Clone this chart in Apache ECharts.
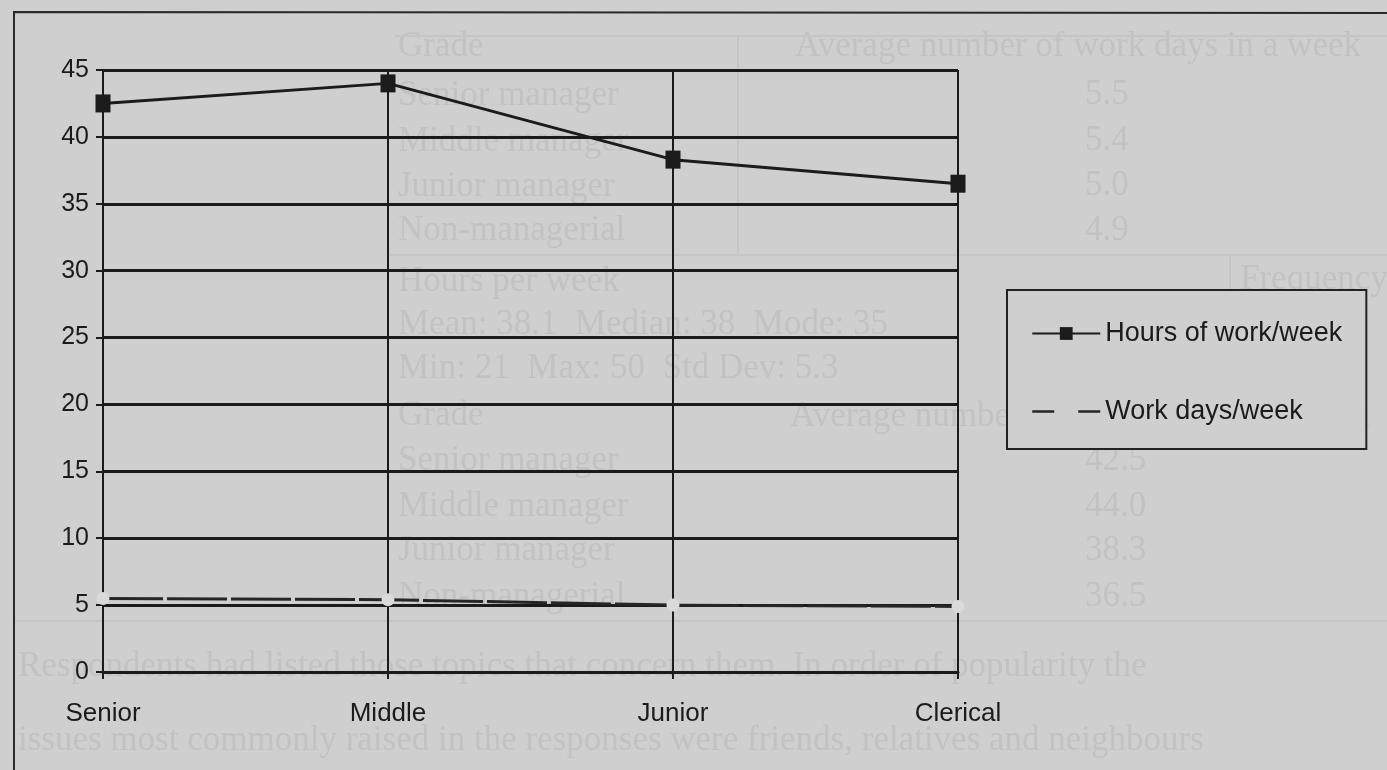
<!DOCTYPE html>
<html>
<head>
<meta charset="utf-8">
<title>Hours of work and work days per week by grade</title>
<script src="https://cdn.jsdelivr.net/npm/echarts@6/dist/echarts.min.js"></script>
<style>
  html, body { margin: 0; padding: 0; background: #cfcfcf; }
  #chart { width: 1387px; height: 770px; }
</style>
</head>
<body>
<div id="chart"></div>
<script>
// Grades along the horizontal axis
const grades = ['Senior', 'Middle', 'Junior', 'Clerical'];
// Average hours worked per week for each grade
const hoursPerWeek = [42.5, 44.0, 38.3, 36.5];
// Average number of work days per week for each grade
const daysPerWeek = [5.5, 5.4, 5.0, 4.9];
// Value axis ticks
const yMin = 0;
const yMax = 45;
const yStep = 5;

// Table printed on the page beneath the chart (shows faintly through)
const pageTextLeft = [
  ['Grade', 48], ['Senior manager', 97], ['Middle manager', 143],
  ['Junior manager', 188], ['Non-managerial', 232], ['Hours per week', 283],
  ['Mean: 38.1  Median: 38  Mode: 35', 326], ['Min: 21  Max: 50  Std Dev: 5.3', 370],
  ['Grade', 417], ['Senior manager', 462], ['Middle manager', 508],
  ['Junior manager', 552], ['Non-managerial', 598]
];
const pageTextValues = [
  ['5.5', 96], ['5.4', 142], ['5.0', 187], ['4.9', 232],
  ['42.5', 462], ['44.0', 508], ['38.3', 552], ['36.5', 598]
];
const pageTextHeads = [
  ['Average number of work days in a week', 795, 48],
  ['Average number of work hours in a week', 790, 418],
  ['Frequency', 1240, 281],
  ['Respondents had listed those topics that concern them. In order of popularity the', 18, 668],
  ['issues most commonly raised in the responses were friends, relatives and neighbours', 18, 742]
];

const ink = '#1b1b1b';
const faint = '#c2c2c2';
const paper = '#cfcfcf';
const serif = '"Liberation Serif", "DejaVu Serif", serif';
const sans = '"Liberation Sans", Arial, sans-serif';
const pageFont = '35px ' + serif;

const pageGraphics = [];
pageTextLeft.forEach(([t, y]) => pageGraphics.push({
  type: 'text', left: 398, top: y - 19, z: -10, silent: true,
  style: { text: t, fill: faint, font: pageFont }
}));
pageTextValues.forEach(([t, y]) => pageGraphics.push({
  type: 'text', left: 1085, top: y - 19, z: -10, silent: true,
  style: { text: t, fill: faint, font: pageFont }
}));
pageTextHeads.forEach(([t, x, y]) => pageGraphics.push({
  type: 'text', left: x, top: y - 19, z: -10, silent: true,
  style: { text: t, fill: faint, font: pageFont }
}));
// faint ruling of the printed table
[[395, 36, 1387, 36], [390, 255, 1387, 255], [14, 621, 1387, 621],
 [738, 36, 738, 255], [1230, 255, 1230, 300]].forEach(([x1, y1, x2, y2]) => pageGraphics.push({
  type: 'line', z: -10, silent: true,
  shape: { x1, y1, x2, y2 }, style: { stroke: '#c5c5c5', lineWidth: 2 }
}));
// frame around the chart
pageGraphics.push({
  type: 'polyline', z: 5, silent: true,
  shape: { points: [[14, 770], [14, 12], [1387, 13]] },
  style: { stroke: '#2a2a2a', lineWidth: 2, fill: null }
});

const chart = echarts.init(document.getElementById('chart'), null, { renderer: 'canvas' });
chart.setOption({
  backgroundColor: paper,
  animation: false,
  graphic: pageGraphics,
  grid: { left: 103, right: 429, top: 70, bottom: 98, containLabel: false },
  legend: {
    orient: 'vertical',
    left: 1007,
    top: 290,
    padding: [30, 24, 24, 24],
    backgroundColor: paper,
    borderColor: '#222',
    borderWidth: 2,
    itemWidth: 68,
    itemHeight: 16,
    itemGap: 51,
    textStyle: { color: ink, fontFamily: sans, fontSize: 27, lineHeight: 20, padding: [0, 0, 0, 0] },
    data: [
      { name: 'Hours of work/week' },
      { name: 'Work days/week', itemStyle: { opacity: 0 }, lineStyle: { type: [22, 24], width: 2.5 } }
    ]
  },
  xAxis: {
    type: 'category',
    data: grades,
    boundaryGap: false,
    axisLine: { show: true, lineStyle: { color: ink, width: 3 } },
    axisTick: { show: true, length: 7, lineStyle: { color: ink, width: 2 } },
    axisLabel: { color: ink, fontFamily: sans, fontSize: 26, margin: 29 },
    splitLine: { show: true, lineStyle: { color: ink, width: 2 } }
  },
  yAxis: {
    type: 'value',
    min: yMin,
    max: yMax,
    interval: yStep,
    axisLine: { show: true, lineStyle: { color: ink, width: 2 } },
    axisTick: { show: true, length: 7, lineStyle: { color: ink, width: 2 } },
    axisLabel: { color: ink, fontFamily: sans, fontSize: 25, margin: 14 },
    splitLine: { show: true, lineStyle: { color: ink, width: 3 } }
  },
  series: [
    {
      name: 'Hours of work/week',
      type: 'line',
      data: hoursPerWeek,
      symbol: 'rect',
      symbolSize: [15, 18],
      itemStyle: { color: ink },
      lineStyle: { color: ink, width: 3 },
      z: 4
    },
    {
      name: 'Work days/week',
      type: 'line',
      data: daysPerWeek,
      symbol: 'circle',
      symbolSize: 13,
      itemStyle: { color: '#dadada' },
      lineStyle: { color: '#262626', width: 3, type: [60, 4] },
      z: 3
    }
  ]
});
</script>
</body>
</html>
